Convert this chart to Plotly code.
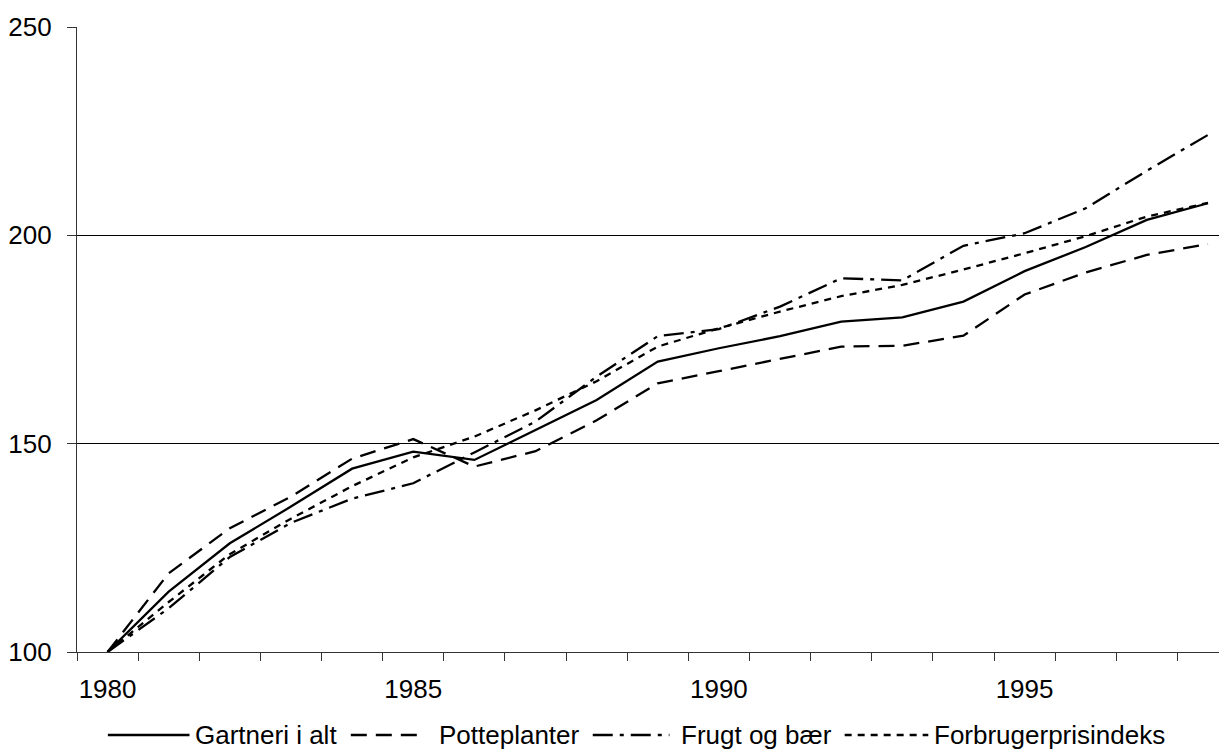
import plotly.graph_objects as go

years = list(range(1980, 1999))
gartneri = [100, 114.5, 126.1, 134.9, 144.0, 148.1, 146.1, 153.2, 160.5, 169.7,
            172.9, 175.8, 179.3, 180.3, 184.1, 191.4, 197.2, 203.7, 207.7]
potteplanter = [100, 118.9, 129.7, 137.3, 146.4, 151.1, 144.5, 148.2, 155.6, 164.5,
                167.4, 170.4, 173.3, 173.5, 175.9, 185.8, 191.1, 195.3, 197.9]
frugt = [100, 110.5, 122.8, 131.0, 136.8, 140.5, 147.9, 155.3, 166.1, 175.8,
         177.5, 182.9, 189.7, 189.2, 197.5, 200.5, 206.5, 215.5, 224.1]
cpi = [100, 112.0, 123.5, 132.0, 139.8, 146.7, 151.7, 158.0, 165.0, 173.3,
       177.7, 181.7, 185.4, 188.1, 191.8, 195.7, 199.8, 204.5, 207.8]

series_names = ["Gartneri i alt", "Potteplanter", "Frugt og bær", "Forbrugerprisindeks"]
series_values = [gartneri, potteplanter, frugt, cpi]
dashes = ["solid", "16px,9px", "20px,7px,4px,7px", "7px,6px"]

x_tickvals = [1980, 1985, 1990, 1995]
x_ticktext = ["1980", "1985", "1990", "1995"]
y_tickvals = [100, 150, 200, 250]
y_gridvals = [150, 200]

# the page body has an 8px margin, so the figure is drawn 8px smaller/offset
OFF = 8
W, H = 1227 - OFF, 749 - OFF
ML, MR, MT = 72 - OFF, 0, 27 - OFF
MB = H - (652 - OFF)
FONT = "Arial, Liberation Sans, Helvetica, sans-serif"

fig = go.Figure()
for name, vals, dash in zip(series_names, series_values, dashes):
    fig.add_trace(go.Scatter(x=years, y=vals, name=name, mode="lines",
                             line=dict(color="black", width=2.3, dash=dash),
                             showlegend=False))

# manual legend (long sample lines like the original); positions in screen px
plot_w = W - ML - MR
plot_h = H - MT - MB
def px_x(p):
    return (p - OFF - ML) / plot_w
def px_y(p):
    return (H - MB - (p - OFF)) / plot_h

legend_y = 735
legend_lines = [(103, 185), (347, 422), (590, 667), (843, 927)]
legend_text_x = [190, 435, 678, 932]
for name, dash, (x0, x1), tx in zip(series_names, dashes, legend_lines, legend_text_x):
    fig.add_shape(type="line", xref="paper", yref="paper",
                  x0=px_x(x0), x1=px_x(x1), y0=px_y(legend_y), y1=px_y(legend_y),
                  line=dict(color="black", width=2.3, dash=dash))
    fig.add_annotation(text=name, xref="paper", yref="paper",
                       x=px_x(tx), y=px_y(legend_y), xanchor="left", yanchor="middle",
                       showarrow=False, font=dict(family=FONT, size=26, color="black"),
                       borderpad=0)

fig.update_layout(
    width=W, height=H,
    margin=dict(l=ML, r=MR, t=MT, b=MB, pad=0),
    paper_bgcolor="white", plot_bgcolor="white",
    font=dict(family=FONT, size=26, color="black"),
    showlegend=False,
)
fig.update_xaxes(
    range=[1979.5, 1979.5 + plot_w / 61.4],
    tickvals=x_tickvals, ticktext=x_ticktext,
    ticks="", showgrid=False, zeroline=False,
    showline=True, linecolor="#333", linewidth=1.3,
    ticklabelstandoff=14,
    minor=dict(ticks="outside", ticklen=8, tickcolor="#333", tickwidth=1.3,
               tick0=1979.5, dtick=1, showgrid=False),
)
fig.update_yaxes(
    range=[100, 250],
    tickvals=y_tickvals,
    ticks="outside", ticklen=9, tickcolor="#333", tickwidth=1.3,
    showgrid=False, zeroline=False,
    showline=True, linecolor="#333", linewidth=1.3,
    ticklabelstandoff=10,
    minor=dict(tickvals=y_gridvals, showgrid=True, gridcolor="black", gridwidth=1.2,
               ticks=""),
)

fig.write_html("out.html")
